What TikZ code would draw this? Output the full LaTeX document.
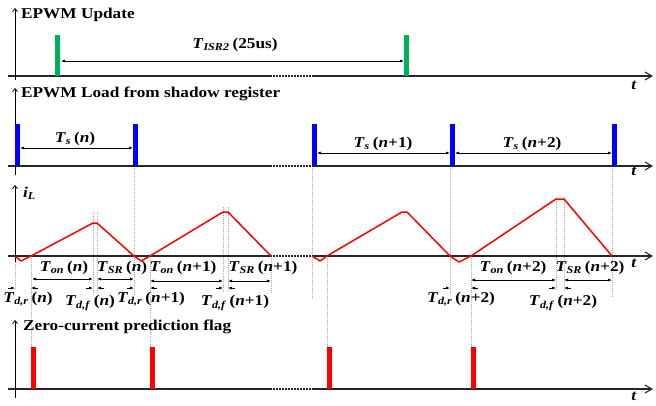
\documentclass[tikz,border=0pt]{standalone}
\usepackage{fontspec}
\setmainfont{Liberation Serif}
\usetikzlibrary{arrows.meta}
\definecolor{epwmgreen}{HTML}{00B050}
\definecolor{loadblue}{HTML}{0000FF}
\definecolor{ilred}{HTML}{FF0000}
\newcommand{\xs}[1]{\scalebox{1.15}[1]{#1}}
\newcommand{\Tsub}[1]{\textit{T}\textsubscript{\textit{#1}}}

\begin{document}
\begin{tikzpicture}[x=1pt,y=-1pt,>=Latex,
  axis/.style={line width=1.1pt,black!85},
  gap/.style={axis,dash pattern=on 1.5pt off 1.5pt},
  guide/.style={gray!70,dash pattern=on 1pt off 1pt,line width=0.5pt},
  dim/.style={<->,>={Latex[length=4pt,width=3pt]},line width=0.7pt},
  tip/.style={->,>={Latex[length=4pt,width=3pt]},line width=0.7pt},
  lbl/.style={font=\bfseries\fontsize{15}{18}\selectfont,inner sep=0pt},
  wave/.style={ilred,line width=1.5pt,line join=round}]
  \useasboundingbox (0,0) rectangle (656,405);
  % guide lines
  \foreach \x/\a/\b in {15/258/290,31/258/347,93/212/293,97/212/293,134/166/295,
    150/258/347,223/207/293,228/207/293,271/256/293,312/166/300,327/258/347,
    450/166/293,471/258/347,556/197/290,564/197/290,612/166/298}
    \draw[guide] (\x,\a) -- (\x,\b);
  % time axes
  \foreach \y in {76,166,256,389}{
    \draw[axis] (8,\y) -- (270,\y);
    \draw[gap] (270,\y) -- (313,\y);
    \draw[axis,-{Straight Barb[length=7pt,width=8pt]}] (313,\y) -- (653,\y);
  }
  \foreach \a/\b in {80/8,175/88,262/185,398/320}
    \draw[line width=0.8pt,-{Straight Barb[length=3pt,width=5pt]}] (15,\a) -- (15,\b);
  \foreach \y [count=\i] in {85,171,263,396}
    \node[lbl] (t\i) at (634,\y) {\xs{\textit{t}}};
  % headers
  \node[lbl,anchor=base west] (hdrA) at (21,18) {\xs{EPWM Update}};
  \node[lbl,anchor=base west] (hdrB) at (21,97) {\xs{EPWM Load from shadow register}};
  \node[lbl,anchor=base west] (hdrC) at (23,197) {\xs{\textit{i}\textsubscript{\textit{L}}}};
  \node[lbl,anchor=base west] (hdrD) at (23,330) {\xs{Zero-current prediction flag}};
  % EPWM update
  \fill[epwmgreen] (55,35) rectangle (60,76);
  \fill[epwmgreen] (404,35) rectangle (409,76);
  \draw[dim] (61,61) -- (404,61);
  \node[lbl] (tisr) at (235,45) {\xs{\Tsub{ISR2}\,(25us)}};
  % shadow load
  \foreach \x in {15,133,312,450,612}
    \fill[loadblue] (\x,124) rectangle ++(5,42);
  \draw[dim] (20,148) -- (133,148);
  \draw[dim] (317,153) -- (450,153);
  \draw[dim] (455,153) -- (612,153);
  \node[lbl] (tsa) at (75,139) {\xs{\Tsub{s}\,(\textit{n})}};
  \node[lbl] (tsb) at (383,144) {\xs{\Tsub{s}\,(\textit{n}+1)}};
  \node[lbl] (tsc) at (532,144) {\xs{\Tsub{s}\,(\textit{n}+2)}};
  % inductor current
  \draw[wave] (15,256) -- (21,261) -- (31,256) -- (93,223) -- (97,223) -- (134,256)
    -- (141,261) -- (150,256) -- (223,212) -- (228,212) -- (271,256);
  \draw[wave] (312,256) -- (320,261) -- (327,256) -- (402,212) -- (407,212) -- (450,256)
    -- (459,262) -- (471,256) -- (556,199) -- (564,199) -- (612,256);
  \draw[dim] (32,279) -- (93,279);
  \draw[dim] (97,279) -- (134,279);
  \draw[dim] (150,281) -- (223,281);
  \draw[dim] (228,281) -- (271,281);
  \draw[dim] (471,280) -- (556,280);
  \draw[dim] (564,280) -- (612,280);
  \foreach \l/\r in {15/31,93/97,134/150,223/228,450/471,556/564}{
    \draw[tip] (\l-7,288) -- (\l,288);
    \draw[tip] (\r+7,288) -- (\r,288);
  }
  \node[lbl] (ona) at (64,268) {\xs{\Tsub{on}\,(\textit{n})}};
  \node[lbl] (sra) at (122,268) {\xs{\Tsub{SR}\,(\textit{n})}};
  \node[lbl] (onb) at (183,268) {\xs{\Tsub{on}\,(\textit{n}+1)}};
  \node[lbl] (srb) at (263,268) {\xs{\Tsub{SR}\,(\textit{n}+1)}};
  \node[lbl] (onc) at (513,268) {\xs{\Tsub{on}\,(\textit{n}+2)}};
  \node[lbl] (src) at (590,268) {\xs{\Tsub{SR}\,(\textit{n}+2)}};
  \node[lbl] (dra) at (28,299) {\xs{\Tsub{d,r}\,(\textit{n})}};
  \node[lbl] (dfa) at (90,303) {\xs{\Tsub{d,f}\,(\textit{n})}};
  \node[lbl] (drb) at (151,299) {\xs{\Tsub{d,r}\,(\textit{n}+1)}};
  \node[lbl] (dfb) at (235,303) {\xs{\Tsub{d,f}\,(\textit{n}+1)}};
  \node[lbl] (drc) at (461,299) {\xs{\Tsub{d,r}\,(\textit{n}+2)}};
  \node[lbl] (dfc) at (563,303) {\xs{\Tsub{d,f}\,(\textit{n}+2)}};
  % prediction flag
  \foreach \x in {31,150,327,471}
    \fill[ilred] (\x,347) rectangle ++(4.5,42);
\end{tikzpicture}
\end{document}
